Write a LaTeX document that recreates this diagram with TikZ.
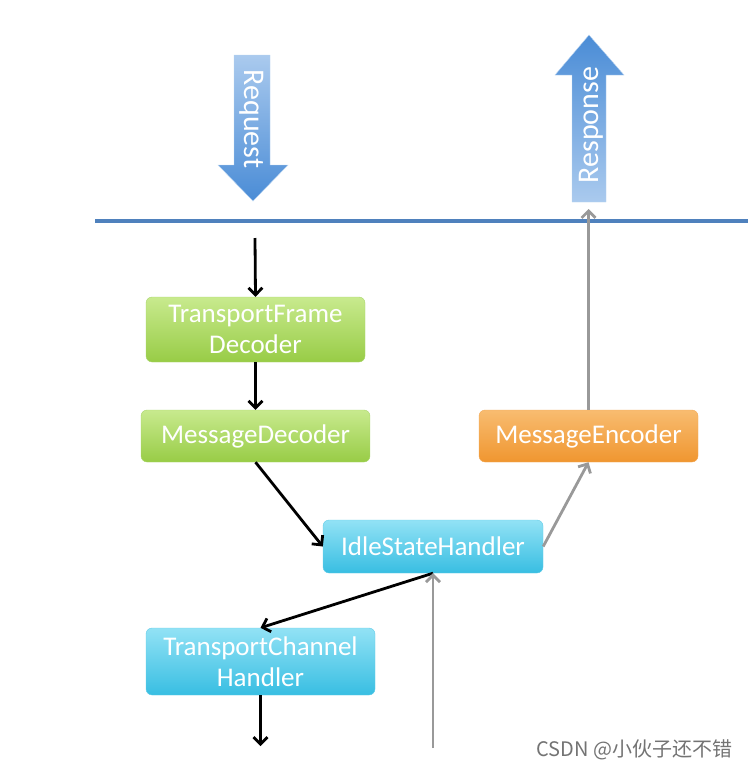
\documentclass[tikz,border=0pt]{standalone}
\usepackage{fontspec}
\setmainfont{Carlito}
\newfontfamily\cjk{Noto Sans CJK SC}
\usetikzlibrary{positioning,arrows.meta}

\definecolor{wireblue}{RGB}{79,129,189}
\definecolor{flowlight}{RGB}{170,202,238}
\definecolor{flowdark}{RGB}{74,140,214}

\begin{document}
\begin{tikzpicture}[x=1pt,y=-1pt,
  handler/.style = {rounded corners=6pt, align=center, text=white, inner sep=0pt,
                    font=\fontsize{27}{31}\selectfont},
  greenbox/.style = {handler, top color={rgb,255:red,200;green,234;blue,142}, bottom color={rgb,255:red,152;green,204;blue,70}, draw={rgb,255:red,170;green,214;blue,110}},
  orangebox/.style = {handler, top color={rgb,255:red,248;green,188;blue,112}, bottom color={rgb,255:red,240;green,150;blue,48}, draw={rgb,255:red,242;green,170;blue,90}},
  cyanbox/.style = {handler, top color={rgb,255:red,146;green,226;blue,245}, bottom color={rgb,255:red,56;green,190;blue,226}, draw={rgb,255:red,100;green,205;blue,232}},
  blk/.style = {line width=2.8pt, black, -{Straight Barb[length=7pt,width=14pt]}},
  gry/.style = {line width=2.8pt, black!40, -{Straight Barb[length=7pt,width=14pt]}}]
\useasboundingbox (0,0) rectangle (748,769);

% boundary line
\draw[line width=3.5pt, wireblue] (95,221) -- (748,221);

% request / response arrows
\shade[top color=flowlight, bottom color=flowdark, draw=flowlight!80!white]
  (234,55) -- (270,55) -- (270,165) -- (288,165) -- (253,201) -- (218,165) -- (234,165) -- cycle;
\node[rotate=-90, text=white, font=\fontsize{30}{30}\selectfont] (req) at (252,119) {Request};
\shade[top color=flowdark, bottom color=flowlight, draw=flowlight!80!white]
  (572,202) -- (606,202) -- (606,75) -- (624,75) -- (589,35) -- (555,75) -- (572,75) -- cycle;
\node[rotate=90, text=white, font=\fontsize{30}{30}\selectfont] (resp) at (591,125) {Response};

% handlers
\node[greenbox, minimum width=219pt, minimum height=65pt] (tfd) at (255.5,329.5) {TransportFrame\\Decoder};
\node[greenbox, minimum width=229pt, minimum height=52pt] (md) at (255.5,436) {MessageDecoder};
\node[orangebox, minimum width=219pt, minimum height=52pt] (me) at (588.5,436) {MessageEncoder};
\node[cyanbox, minimum width=220pt, minimum height=53pt] (ish) at (433,546.5) {IdleStateHandler};
\node[cyanbox, minimum width=229pt, minimum height=67pt] (tch) at (260.5,661.5) {TransportChannel\\Handler};

\coordinate (in) at (255,238);
\coordinate (out) at (260.5,746);
\coordinate (net) at (433,748);
\coordinate (top) at (588.5,209);

% inbound
\draw[blk] (in) -- (tfd.north);
\draw[blk] (tfd.south) -- (md.north);
\draw[blk] (md.south) -- (ish.west);
\draw[blk] (ish.south) -- (tch.north);
\draw[blk] (tch.south) -- (out);

% outbound
\draw[gry] (net) -- (ish.south);
\draw[gry] (ish.east) -- (me.south);
\draw[gry] (me.north) -- (top);

\node[anchor=east, text=black!55, font=\cjk\fontsize{20}{20}\selectfont] (mark) at (736,750) {CSDN @小伙子还不错};
\end{tikzpicture}
\end{document}
